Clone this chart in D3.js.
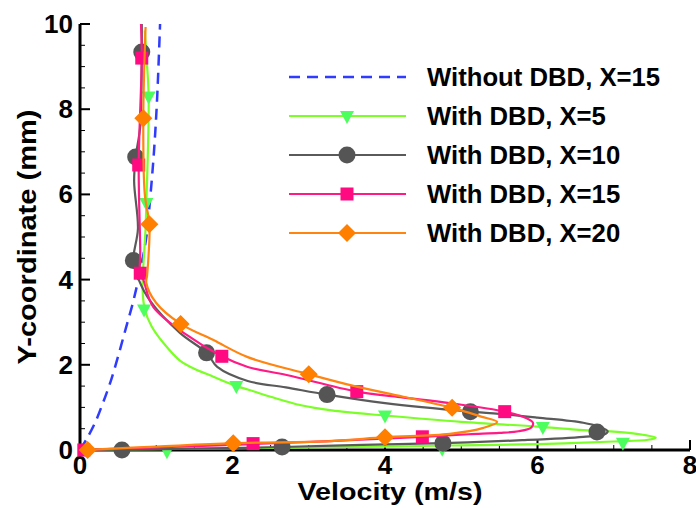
<!DOCTYPE html>
<html>
<head>
<meta charset="utf-8">
<script src="https://cdn.jsdelivr.net/npm/d3@7"></script>
<style>
  body { margin: 0; background: #fff; }
  text { font-family: Arial, "Liberation Sans", Helvetica, sans-serif; font-weight: bold; }
</style>
</head>
<body>
<div id="chart"></div>
<script>
// Velocity (m/s), Y-coordinate (mm) pairs
const noDbd15 = [[0,0],[0.1,0.3],[0.2,0.65],[0.3,1.1],[0.4,1.6],[0.5,2.2],[0.6,2.85],[0.7,3.5],
  [0.8,4.3],[0.87,5.0],[0.92,5.9],[0.97,7.0],[1.01,8.2],[1.05,10]];

const dbd5 = [[0,0],[1,0.02],[2,0.04],[3,0.06],[4,0.08],[5,0.11],[6,0.14],[7,0.2],[7.45,0.24],[7.55,0.29],
  [7.3,0.38],[7.0,0.43],[6.5,0.48],[6.0,0.55],[5.0,0.66],[4.0,0.81],[3.3,0.93],[2.9,1.05],[2.5,1.25],
  [2.2,1.42],[2.05,1.5],[1.75,1.72],[1.45,1.95],[1.31,2.1],[1.1,2.5],[0.94,2.9],[0.85,3.3],[0.82,3.8],
  [0.83,4.3],[0.86,5.2],[0.87,5.8],[0.89,7.0],[0.9,8.3],[0.87,9.3],[0.85,9.85]];
const dbd5Marks = [[1.14,-0.03],[4.75,0.03],[7.12,0.17],[6.07,0.54],[4.0,0.81],[2.05,1.5],[0.84,3.3],[0.87,5.8],[0.9,8.3]];

const dbd10 = [[0,0],[0.55,0.01],[1.5,0.03],[2.65,0.07],[3.7,0.12],[4.76,0.16],[5.8,0.23],[6.6,0.31],
  [6.88,0.37],[6.92,0.44],[6.8,0.55],[6.6,0.64],[6.0,0.76],[5.5,0.85],[5.12,0.9],[4.0,1.1],[3.24,1.3],
  [2.7,1.47],[2.2,1.62],[1.8,1.95],[1.66,2.28],[1.31,2.75],[0.92,3.5],[0.77,4.0],[0.7,4.45],[0.76,5.2],
  [0.71,6.3],[0.73,6.88],[0.79,7.6],[0.81,9.34],[0.81,10]];
const dbd10Marks = [[0.55,0.0],[2.65,0.07],[4.76,0.16],[6.78,0.42],[5.12,0.9],[3.24,1.3],[1.66,2.28],[0.7,4.45],[0.73,6.88],[0.81,9.34]];

const dbd15 = [[0,0],[1,0.06],[2.27,0.14],[3.4,0.22],[4.49,0.31],[5.1,0.37],[5.5,0.4],[5.75,0.44],
  [5.92,0.53],[5.94,0.64],[5.85,0.75],[5.57,0.9],[4.85,1.1],[4.2,1.24],[3.63,1.37],[2.71,1.76],
  [2.2,1.95],[1.86,2.2],[1.4,2.7],[0.96,3.36],[0.83,4.0],[0.79,4.15],[0.79,4.7],[0.77,6.69],[0.81,9.2],[0.8,10]];
const dbd15Marks = [[0.05,0.0],[2.27,0.15],[4.49,0.31],[5.57,0.9],[3.63,1.37],[1.86,2.2],[0.79,4.15],[0.77,6.69],[0.81,9.2]];

const dbd20 = [[0,0],[0.1,0.005],[1,0.08],[2.01,0.16],[3.3,0.21],[4.0,0.3],[4.85,0.38],[5.29,0.52],
  [5.47,0.66],[5.25,0.79],[4.88,0.99],[4.24,1.25],[3.6,1.5],[3.0,1.78],[2.2,2.18],[1.75,2.58],
  [1.32,2.96],[1.0,3.45],[0.87,3.92],[0.88,4.1],[0.9,4.6],[0.91,5.3],[0.85,6.0],[0.83,7.79],[0.86,9.93]];
const dbd20Marks = [[0.1,0.0],[2.01,0.16],[4.0,0.3],[4.88,0.99],[3.0,1.78],[1.32,2.96],[0.91,5.3],[0.83,7.79]];

const seriesNames = ['Without DBD, X=15', 'With DBD, X=5', 'With DBD, X=10', 'With DBD, X=15', 'With DBD, X=20'];
const xTicks = [0, 2, 4, 6, 8];
const yTicks = [0, 2, 4, 6, 8, 10];

const width = 696, height = 508;
const x = d3.scaleLinear().domain([0, 8]).range([80, 690]);
const y = d3.scaleLinear().domain([0, 10]).range([450, 24]);

const series = [
  { name: seriesNames[0], line: noDbd15, marks: [], color: '#2f3cff', dash: '11,7', symbol: null },
  { name: seriesNames[1], line: dbd5, marks: dbd5Marks, color: '#7cff26', fill: '#4dff5e', symbol: 'tri' },
  { name: seriesNames[2], line: dbd10, marks: dbd10Marks, color: '#5a5a5a', fill: '#555555', symbol: 'circle' },
  { name: seriesNames[3], line: dbd15, marks: dbd15Marks, color: '#ff1a86', fill: '#ff0a80', symbol: 'square' },
  { name: seriesNames[4], line: dbd20, marks: dbd20Marks, color: '#ff8410', fill: '#ff7f00', symbol: 'diamond' }
];

const svg = d3.select('#chart').append('svg')
    .attr('width', width)
    .attr('height', height);

// axes (left + bottom only, ticks pointing inward)
const xAxis = svg.append('g').attr('transform', `translate(0,${y(0)})`);
xAxis.append('line').attr('x1', x(0) - 1.5).attr('x2', x(8)).attr('stroke', '#000').attr('stroke-width', 3);
xAxis.selectAll('.minor').data(d3.range(0, 8.01, 0.5)).enter().append('line')
    .attr('x1', d => x(d)).attr('x2', d => x(d))
    .attr('y1', 0).attr('y2', d => d % 2 === 0 ? -10 : -5)
    .attr('stroke', '#000').attr('stroke-width', d => d % 2 === 0 ? 2 : 1);
xAxis.selectAll('.lbl').data(xTicks).enter().append('text')
    .attr('x', d => x(d)).attr('y', 24)
    .attr('text-anchor', 'middle').attr('font-size', 26)
    .text(d => d);

const yAxis = svg.append('g').attr('transform', `translate(${x(0)},0)`);
yAxis.append('line').attr('y1', y(10)).attr('y2', y(0) + 1.5).attr('stroke', '#000').attr('stroke-width', 3);
yAxis.selectAll('.minor').data(d3.range(0, 10.01, 0.5)).enter().append('line')
    .attr('y1', d => y(d)).attr('y2', d => y(d))
    .attr('x1', 0).attr('x2', d => d % 2 === 0 ? 10 : 5)
    .attr('stroke', '#000').attr('stroke-width', d => d % 2 === 0 ? 2 : 1);
yAxis.selectAll('.lbl').data(yTicks).enter().append('text')
    .attr('x', -7).attr('y', d => y(d) + 9)
    .attr('text-anchor', 'end').attr('font-size', 26)
    .text(d => d);

svg.append('text')
    .attr('x', 390).attr('y', 500)
    .attr('text-anchor', 'middle').attr('font-size', 24)
    .attr('textLength', 185).attr('lengthAdjust', 'spacingAndGlyphs')
    .text('Velocity (m/s)');

svg.append('text')
    .attr('transform', 'translate(36,237) rotate(-90)')
    .attr('text-anchor', 'middle').attr('font-size', 26)
    .attr('textLength', 255).attr('lengthAdjust', 'spacingAndGlyphs')
    .text('Y-coordinate (mm)');

// symbols
function drawSymbol(g, s, cx, cy) {
  if (s.symbol === 'tri') {
    g.append('path').attr('d', `M${cx - 7},${cy - 5} L${cx + 7},${cy - 5} L${cx},${cy + 8} Z`).attr('fill', s.fill);
  } else if (s.symbol === 'circle') {
    g.append('circle').attr('cx', cx).attr('cy', cy).attr('r', 8.5).attr('fill', s.fill);
  } else if (s.symbol === 'square') {
    g.append('rect').attr('x', cx - 6.5).attr('y', cy - 6.5).attr('width', 13).attr('height', 13).attr('fill', s.fill);
  } else if (s.symbol === 'diamond') {
    g.append('path').attr('d', `M${cx},${cy - 9} L${cx + 9},${cy} L${cx},${cy + 9} L${cx - 9},${cy} Z`).attr('fill', s.fill);
  }
}

const line = d3.line()
    .x(d => x(d[0]))
    .y(d => y(d[1]))
    .curve(d3.curveCatmullRom.alpha(0.5));

const plot = svg.append('g');
series.forEach(s => {
  plot.append('path')
      .datum(s.line)
      .attr('d', line)
      .attr('fill', 'none')
      .attr('stroke', s.color)
      .attr('stroke-width', s.dash ? 2.5 : 2.2)
      .attr('stroke-dasharray', s.dash || null);
  const mg = plot.append('g');
  s.marks.forEach(m => drawSymbol(mg, s, x(m[0]), y(m[1])));
});

// legend
const legend = svg.append('g');
series.forEach((s, i) => {
  const ly = 77 + i * 39;
  legend.append('line')
      .attr('x1', 289).attr('x2', 406).attr('y1', ly).attr('y2', ly)
      .attr('stroke', s.color).attr('stroke-width', s.dash ? 2.5 : 2.2)
      .attr('stroke-dasharray', s.dash || null);
  drawSymbol(legend, s, 347, ly);
  legend.append('text')
      .attr('x', 427).attr('y', ly + 9)
      .attr('font-size', 25.7)
      .text(s.name);
});
</script>
</body>
</html>
